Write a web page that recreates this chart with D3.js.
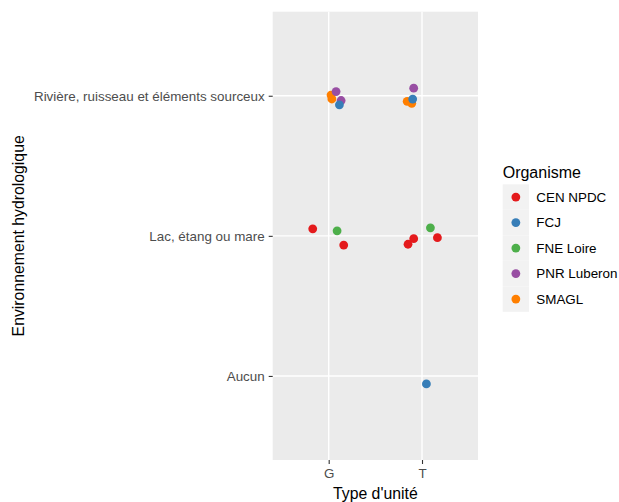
<!DOCTYPE html>
<html><head><meta charset="utf-8">
<script src="https://cdn.jsdelivr.net/npm/d3@7/dist/d3.min.js"></script>
<style>body{margin:0;background:#fff;}svg{display:block;font-family:"Liberation Sans",Arial,sans-serif;}</style>
</head><body><svg id="c" width="619" height="502"></svg>
<script>
const types = ["G", "T"];
const envs = ["Aucun", "Lac, étang ou mare", "Rivière, ruisseau et éléments sourceux"];
const organismes = ["CEN NPDC", "FCJ", "FNE Loire", "PNR Luberon", "SMAGL"];
const colors = ["#E41A1C", "#377EB8", "#4DAF4A", "#984EA3", "#FF7F00"];
// jittered positions (type index 1..2, env index 1..3)
const ptOrg = ["SMAGL","SMAGL","SMAGL","SMAGL","PNR Luberon","PNR Luberon","PNR Luberon","FCJ","FCJ","FCJ","CEN NPDC","CEN NPDC","CEN NPDC","CEN NPDC","CEN NPDC","FNE Loire","FNE Loire"];
const ptX = [1.025,1.034,1.841,1.89,1.079,1.133,1.911,1.115,1.9,2.047,0.829,1.161,1.85,1.911,2.165,1.09,2.09];
const ptY = [3.005,2.977,2.96,2.946,3.03,2.966,3.054,2.935,2.976,0.943,2.05,1.934,1.94,1.98,1.987,2.036,2.057];

const svg = d3.select("#c");
const P = {l:272.7, r:478, t:11.7, b:460};
const x = d3.scaleLinear().domain([0.4, types.length + 0.6]).range([P.l, P.r]);
const y = d3.scaleLinear().domain([0.4, envs.length + 0.6]).range([P.b, P.t]);
const col = d3.scaleOrdinal().domain(organismes).range(colors);

svg.append("rect").attr("x",P.l).attr("y",P.t).attr("width",P.r-P.l).attr("height",P.b-P.t).attr("fill","#EBEBEB");
const g = svg.append("g");
types.forEach((t,i)=>g.append("line").attr("x1",x(i+1)).attr("x2",x(i+1)).attr("y1",P.t).attr("y2",P.b).attr("stroke","#fff").attr("stroke-width",1.4));
envs.forEach((e,i)=>g.append("line").attr("y1",y(i+1)).attr("y2",y(i+1)).attr("x1",P.l).attr("x2",P.r).attr("stroke","#fff").attr("stroke-width",1.4));

// axes
const xAxis = d3.axisBottom(x).tickValues(types.map((d,i)=>i+1)).tickFormat((d)=>types[d-1]).tickSize(4).tickPadding(4);
const gx = svg.append("g").attr("transform",`translate(0,${P.b})`).call(xAxis);
const yAxis = d3.axisLeft(y).tickValues(envs.map((d,i)=>i+1)).tickFormat((d)=>envs[d-1]).tickSize(4).tickPadding(4);
const gy = svg.append("g").attr("transform",`translate(${P.l},0)`).call(yAxis);
[gx,gy].forEach(a=>{
  a.select(".domain").remove();
  a.selectAll(".tick line").attr("stroke","#333").attr("stroke-width",1.1);
  a.selectAll(".tick text").attr("fill","#4D4D4D").style("font-size","13.4px").style("font-family","'Liberation Sans',Arial,sans-serif");
});

// points
svg.append("g").selectAll("circle").data(ptOrg.map((o,i)=>({o, x:ptX[i], y:ptY[i]})))
  .join("circle").attr("cx",d=>x(d.x)).attr("cy",d=>y(d.y)).attr("r",4.4).attr("fill",d=>col(d.o));

// titles
svg.append("text").attr("x",(P.l+P.r)/2).attr("y",499).attr("text-anchor","middle").style("font-size","15.8px").attr("fill","#000").text("Type d'unité");
svg.append("text").attr("transform",`translate(24,${(P.t+P.b)/2}) rotate(-90)`).attr("text-anchor","middle").style("font-size","15.8px").attr("fill","#000").text("Environnement hydrologique");

// legend
const L = {x:502.7, y:184.3, k:25.5, w:26.3};
svg.append("text").attr("x",L.x).attr("y",177.5).style("font-size","16px").attr("fill","#000").text("Organisme");
const lg = svg.append("g").selectAll("g").data(organismes).join("g").attr("transform",(d,i)=>`translate(${L.x},${L.y+i*L.k})`);
lg.append("rect").attr("width",L.w).attr("height",L.k).attr("fill","#F2F2F2");
lg.append("circle").attr("cx",L.w/2).attr("cy",L.k/2).attr("r",4.4).attr("fill",d=>col(d));
lg.append("text").attr("x",L.w+7.3).attr("y",L.k/2+4.8).style("font-size","13.4px").attr("fill","#000").text(d=>d);
</script></body></html>
